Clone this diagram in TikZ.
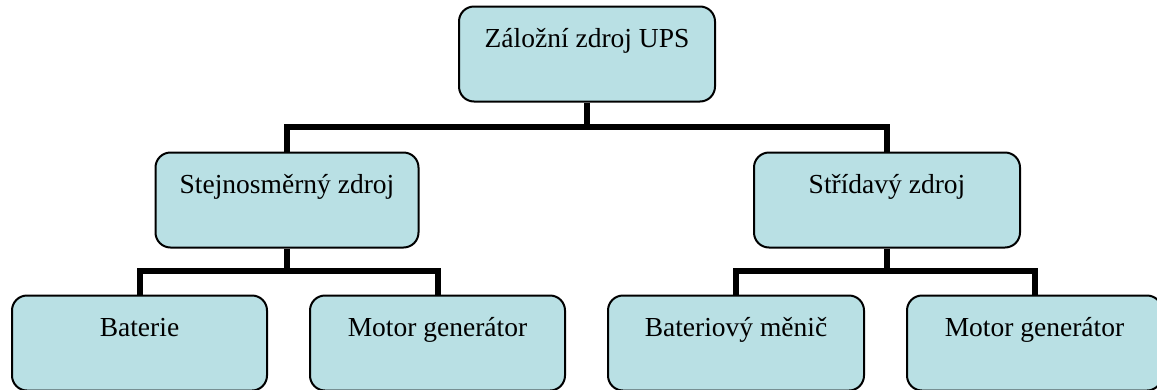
\documentclass[tikz,border=0pt]{standalone}
\usepackage{fontspec}
\setmainfont{Liberation Serif}
\usetikzlibrary{backgrounds}
\definecolor{boxfill}{RGB}{185,224,228}
\begin{document}
\begin{tikzpicture}[x=1pt,y=-1pt,
  orgbox/.style={draw=black, line width=2pt, fill=boxfill, rounded corners=15pt,
    minimum height=95pt, inner sep=0pt, text height=20pt, text depth=33pt,
    font=\fontsize{27.5}{33}\selectfont},
  wire/.style={draw=black, line width=6pt}]
\useasboundingbox (0,0) rectangle (1157,389);
\clip (0,0) rectangle (1157,389);

% boxes
\node[orgbox, minimum width=256pt] (ups)  at (587,54)    {Záložní zdroj UPS};
\node[orgbox, minimum width=263pt] (dc)   at (287,200)   {Stejnosměrný zdroj};
\node[orgbox, minimum width=266pt] (ac)   at (887,200)   {Střídavý zdroj};
\node[orgbox, minimum width=255pt] (bat)  at (139.5,343) {Baterie};
\node[orgbox, minimum width=255pt] (mg1)  at (437.5,343) {Motor generátor};
\node[orgbox, minimum width=256pt] (inv)  at (736,343)   {Bateriový měnič};
\node[orgbox, minimum width=255pt] (mg2)  at (1034.5,343){Motor generátor};

% bus junctions
\coordinate (bus1) at (587,127);
\coordinate (bus2) at (287,271);
\coordinate (bus3) at (887,271);

\begin{scope}[on background layer]
  \draw[wire] (ups.south) -- (bus1);
  \draw[wire] (dc.north) |- (bus1) -| (ac.north);
  \draw[wire] (dc.south) -- (bus2);
  \draw[wire] (bat.north) |- (bus2) -| (mg1.north);
  \draw[wire] (ac.south) -- (bus3);
  \draw[wire] (inv.north) |- (bus3) -| (mg2.north);
\end{scope}
\end{tikzpicture}
\end{document}
